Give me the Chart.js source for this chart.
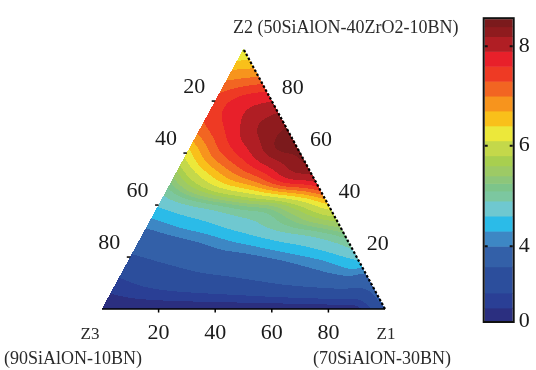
<!DOCTYPE html>
<html><head><meta charset="utf-8">
<style>html,body{margin:0;padding:0;background:#fff;}canvas{display:block;}</style>
<script src="https://cdn.jsdelivr.net/npm/chart.js@4.4.1/dist/chart.umd.min.js"></script>
</head><body>
<canvas id="c" width="536" height="370"></canvas>
<script>
// ---- DATA: response value on the ternary grid ----
// one row per Z2 fraction (0,10,...,100 %), entries ordered by Z1 fraction (0,10,... %)
const z2_000 = [0, 0, 0, 0, 0, 0, 0, 0, 0.1, 0.4, 2.9];
const z2_010 = [1.2, 1.7, 2.05, 2.3, 2.5, 2.75, 3.05, 3.3, 3.5, 3.6];
const z2_020 = [2.75, 3.1, 3.4, 3.7, 3.85, 4.05, 4.25, 4.45, 4.7];
const z2_030 = [3.9, 4.15, 4.35, 4.55, 4.75, 4.95, 5.1, 5.3];
const z2_040 = [4.65, 4.9, 5.1, 5.3, 5.45, 5.85, 6.35];
const z2_050 = [5.35, 6.05, 6.7, 7.2, 7.85, 8.05];
const z2_060 = [6.25, 7.15, 7.75, 8.3, 8.45];
const z2_070 = [7.2, 7.7, 8.2, 8.4];
const z2_080 = [7.4, 7.75, 7.9];
const z2_090 = [6.85, 6.95];
const z2_100 = [6.0];

const axisTicks = [20, 40, 60, 80];
const cbTicks = [0, 4, 6, 8];
const levels = [0, 0.7, 1.5, 2.9, 4.0, 4.3, 4.6, 4.9, 5.1, 5.25, 5.4, 5.6, 5.8, 6.1, 6.4, 6.7, 7.0, 7.3, 7.6, 7.9, 8.2, 8.4, 8.55];
const levelColors = ['#2b2f80','#2a3f95','#2c4e9c','#3360a8','#3d87c4','#2bbbe8','#6fc8d0','#7cc7a0','#7dc48a','#8dc67a','#9dca65','#a8cf4f','#c4d84a','#ece83a','#f9c01a','#f7941d','#f26522','#ee3a24','#e8202a','#b01e24','#8f1b1e','#7b1a1c'];
const vertexNames = ['Z1', 'Z2', 'Z3'];
const vertexComps = ['(70SiAlON-30BN)', '(50SiAlON-40ZrO2-10BN)', '(90SiAlON-10BN)'];
// colorbar scale breakpoints (value -> fraction of bar height)
const cbBreakValues = [0, 4, 6, 8, 8.55];
const cbBreakFrac = [0, 0.248, 0.581, 0.910, 1];

const rows = [z2_000, z2_010, z2_020, z2_030, z2_040, z2_050, z2_060, z2_070, z2_080, z2_090, z2_100];

// ---- layout (style) ----
const W = 536, H = 370;
const triL = 102, triR = 385, triT = 48, triB = 309;
const areaTop = 18, areaBottom = 321, areaRight = 512.7;
const xPer = triR - triL, yPer = triB - triT;
const xMin = -triL / xPer, xMax = xMin + areaRight / xPer;
const yMin = -(areaBottom - triB) / yPer, yMax = yMin + (areaBottom - areaTop) / yPer;
const SERIF = '"Liberation Serif", "DejaVu Serif", serif';

function interp(v, xs, ys) {
  if (v <= xs[0]) return ys[0] + (v - xs[0]) * (ys[1] - ys[0]) / (xs[1] - xs[0]);
  for (let k = 1; k < xs.length; k++) {
    if (v <= xs[k]) return ys[k-1] + (v - xs[k-1]) * (ys[k] - ys[k-1]) / (xs[k] - xs[k-1]);
  }
  const n = xs.length - 1;
  return ys[n] + (v - xs[n]) * (ys[n] - ys[n-1]) / (xs[n] - xs[n-1]);
}

class PiecewiseScale extends Chart.LinearScale {
  static id = 'piecewise';
  static defaults = Chart.LinearScale.defaults;
  getPixelForValue(v) { return this.getPixelForDecimal(interp(v, cbBreakValues, cbBreakFrac)); }
  getValueForPixel(p) { return interp(this.getDecimalForPixel(p), cbBreakFrac, cbBreakValues); }
}
Chart.register(PiecewiseScale);

// node value with linear extension outside the triangle (for smooth interpolation)
const memo = new Map();
function g(i, j) {
  const key = i + ',' + j;
  if (memo.has(key)) return memo.get(key);
  let v;
  if (i >= 0 && j >= 0 && i + j <= 10) v = rows[j][i];
  else if (i < 0) v = 2 * g(i + 1, j) - g(i + 2, j);
  else if (j < 0) v = 2 * g(i, j + 1) - g(i, j + 2);
  else if (i === 0) v = 2 * g(0, j - 1) - g(0, j - 2);
  else if (j === 0) v = 2 * g(i - 1, 0) - g(i - 2, 0);
  else v = g(i - 1, j) + g(i, j - 1) - g(i - 1, j - 1);
  memo.set(key, v);
  return v;
}
function crw(t) {
  const t2 = t * t, t3 = t2 * t;
  return [(-t3 + 2 * t2 - t) / 2, (3 * t3 - 5 * t2 + 2) / 2, (-3 * t3 + 4 * t2 + t) / 2, (t3 - t2) / 2];
}
function fieldAt(a, b) {
  const u = a * 10, w = b * 10;
  const i0 = Math.min(9, Math.max(0, Math.floor(u)));
  const j0 = Math.min(9, Math.max(0, Math.floor(w)));
  const wu = crw(u - i0), ww = crw(w - j0);
  let v = 0;
  for (let n = 0; n < 4; n++) for (let m = 0; m < 4; m++) v += wu[m] * ww[n] * g(i0 - 1 + m, j0 - 1 + n);
  return v;
}
function hexToRgb(h) { return [parseInt(h.slice(1,3),16), parseInt(h.slice(3,5),16), parseInt(h.slice(5,7),16)]; }
const rgbColors = levelColors.map(hexToRgb);
function bandIndex(v) {
  let k = 0;
  while (k < levelColors.length - 1 && v >= levels[k + 1]) k++;
  return k;
}

// grid nodes as a (hidden) dataset: x = Z1 + Z2/2, y = Z2
const nodes = [];
rows.forEach((r, j) => r.forEach((v, i) => nodes.push({ x: i / 10 + j / 20, y: j / 10, v })));

function ternPx(chart, a, b) {
  const xs = chart.scales.x, ys = chart.scales.y;
  return [xs.getPixelForValue(a + b / 2), ys.getPixelForValue(b)];
}

const ternaryPlugin = {
  id: 'ternary',
  beforeDatasetsDraw(chart) {
    const ctx = chart.ctx, xs = chart.scales.x, ys = chart.scales.y;
    const x0 = Math.floor(xs.getPixelForValue(0)), x1 = Math.ceil(xs.getPixelForValue(1));
    const y0 = Math.floor(ys.getPixelForValue(1)), y1 = Math.ceil(ys.getPixelForValue(0));
    const w = x1 - x0, h = y1 - y0;
    const off = document.createElement('canvas'); off.width = w; off.height = h;
    const octx = off.getContext('2d');
    const img = octx.createImageData(w, h);
    for (let py = 0; py < h; py++) {
      const b = ys.getValueForPixel(y0 + py + 0.5);
      for (let px = 0; px < w; px++) {
        const xv = xs.getValueForPixel(x0 + px + 0.5);
        const a = xv - b / 2, c = 1 - a - b;
        if (a < -0.001 || b < -0.001 || c < -0.001) continue;
        const v = fieldAt(Math.max(0, a), Math.max(0, b));
        const col = rgbColors[bandIndex(v)];
        const o = (py * w + px) * 4;
        img.data[o] = col[0]; img.data[o+1] = col[1]; img.data[o+2] = col[2]; img.data[o+3] = 255;
      }
    }
    octx.putImageData(img, 0, 0);
    ctx.drawImage(off, x0, y0);

    // colorbar
    const cb = chart.scales.cb;
    const bx0 = 484.7, bx1 = cb.left;
    for (let k = 0; k < levelColors.length; k++) {
      const ya = cb.getPixelForValue(levels[k]), yb = cb.getPixelForValue(levels[k + 1]);
      ctx.fillStyle = levelColors[k];
      ctx.fillRect(bx0, yb, bx1 - bx0, ya - yb + 0.5);
    }
    ctx.save();
    ctx.strokeStyle = '#111'; ctx.lineWidth = 2;
    ctx.strokeRect(bx0 - 1, cb.top - 1, bx1 - bx0 + 2, cb.bottom - cb.top + 2);
    cbTicks.forEach(t => {
      if (t === cbBreakValues[0]) return;
      const y = cb.getPixelForValue(t);
      ctx.beginPath();
      ctx.moveTo(bx0, y); ctx.lineTo(bx0 + 3, y);
      ctx.moveTo(bx1, y); ctx.lineTo(bx1 - 3, y);
      ctx.stroke();
    });
    ctx.restore();
  },
  afterDatasetsDraw(chart) {
    const ctx = chart.ctx;
    const [lx, ly] = ternPx(chart, 0, 0);   // Z3 vertex
    const [rx, ry] = ternPx(chart, 1, 0);   // Z1 vertex
    const [tx, ty] = ternPx(chart, 0, 1);   // Z2 vertex
    ctx.save();
    ctx.strokeStyle = '#000'; ctx.lineWidth = 1.5;
    ctx.beginPath(); ctx.moveTo(lx, ly); ctx.lineTo(rx, ry); ctx.stroke();
    ctx.lineWidth = 2.2; ctx.setLineDash([2.5, 2]);
    ctx.beginPath(); ctx.moveTo(rx, ry); ctx.lineTo(tx, ty); ctx.stroke();
    ctx.setLineDash([]);
    ctx.lineWidth = 1.5;
    ctx.fillStyle = '#1a1a1a';
    ctx.font = '22px ' + SERIF;
    ctx.textAlign = 'center'; ctx.textBaseline = 'middle';
    axisTicks.forEach(t => {
      const f = t / 100;
      let [x, y] = ternPx(chart, f, 0);
      ctx.beginPath(); ctx.moveTo(x, y); ctx.lineTo(x, y + 3.5); ctx.stroke();
      ctx.fillText(String(t), x, y + 24);
      [x, y] = ternPx(chart, 0, 1 - f);
      ctx.beginPath(); ctx.moveTo(x, y); ctx.lineTo(x - 3.5, y); ctx.stroke();
      ctx.fillText(String(t), x - 21, y - 14);
      [x, y] = ternPx(chart, 1 - f, f);
      ctx.fillText(String(t), x + 21, y - 13);
    });
    ctx.fillStyle = '#2a2a2a';
    ctx.font = '17px ' + SERIF;
    ctx.fillText(vertexNames[2], lx - 12, ly + 25);
    ctx.fillText(vertexNames[0], rx + 1, ry + 25);
    ctx.font = '18px ' + SERIF;
    ctx.textAlign = 'left';
    ctx.fillText(vertexComps[2], 4, ly + 50);
    ctx.fillText(vertexComps[0], rx - 72, ry + 50);
    ctx.fillText(vertexNames[1] + ' ' + vertexComps[1], tx - 10.5, ty - 21);
    ctx.restore();
  }
};

new Chart(document.getElementById('c'), {
  type: 'scatter',
  data: { datasets: [{ data: nodes, pointRadius: 0, pointHoverRadius: 0, showLine: false }] },
  options: {
    responsive: false,
    animation: false,
    devicePixelRatio: 1,
    events: [],
    layout: { padding: { left: 0, right: 0, top: areaTop, bottom: H - areaBottom } },
    plugins: { legend: { display: false }, tooltip: { enabled: false }, title: { display: false } },
    scales: {
      x: { type: 'linear', display: false, min: xMin, max: xMax },
      y: { type: 'linear', display: false, min: yMin, max: yMax },
      cb: {
        type: 'piecewise', position: 'right', min: cbBreakValues[0], max: cbBreakValues[cbBreakValues.length - 1],
        afterBuildTicks: s => { s.ticks = cbTicks.map(v => ({ value: v })); },
        afterFit: s => { s.width = W - areaRight; },
        grid: { display: false, drawTicks: false },
        border: { display: false },
        ticks: { autoSkip: false, padding: 6, color: '#1a1a1a', font: { family: SERIF, size: 22 } }
      }
    }
  },
  plugins: [ternaryPlugin]
});
</script>
</body></html>
